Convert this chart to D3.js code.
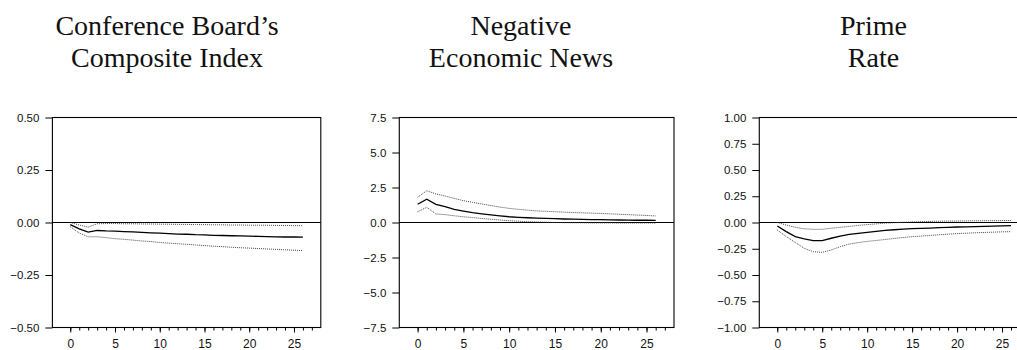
<!DOCTYPE html>
<html>
<head>
<meta charset="utf-8">
<script src="https://cdn.jsdelivr.net/npm/d3@7"></script>
<style>
  html, body { margin: 0; padding: 0; background: #fff; }
  svg { display: block; }
</style>
</head>
<body>
<svg id="chart" width="1017" height="350"></svg>
<script>
// ---------- DATA ----------
const horizons = d3.range(0, 27); // 0..26

const titles = [
  ["Conference Board\u2019s", "Composite Index"],
  ["Negative", "Economic News"],
  ["Prime", "Rate"]
];

const yDomains = [[-0.5, 0.5], [-7.5, 7.5], [-1.0, 1.0]];
const yTickValues = [
  [-0.5, -0.25, 0, 0.25, 0.5],
  [-7.5, -5.0, -2.5, 0, 2.5, 5.0, 7.5],
  [-1.0, -0.75, -0.5, -0.25, 0, 0.25, 0.5, 0.75, 1.0]
];
const yTickFormats = [".2f", ".1f", ".2f"];
const xMajorTicks = [0, 5, 10, 15, 20, 25];
const xMinorTicks = d3.range(0, 28);

// Panel 1: Conference Board's Composite Index
const cbMid = [-0.010, -0.030, -0.046, -0.038, -0.040, -0.041, -0.043, -0.045, -0.047, -0.049,
  -0.051, -0.053, -0.055, -0.056, -0.058, -0.059, -0.061, -0.062, -0.063, -0.064,
  -0.065, -0.066, -0.067, -0.068, -0.069, -0.069, -0.070];
const cbUpper = [0.000, -0.012, -0.022, -0.006, -0.005, -0.005, -0.006, -0.006, -0.007, -0.007,
  -0.008, -0.008, -0.009, -0.009, -0.010, -0.010, -0.011, -0.011, -0.012, -0.012,
  -0.013, -0.013, -0.013, -0.014, -0.014, -0.015, -0.015];
const cbLower = [-0.020, -0.050, -0.068, -0.068, -0.072, -0.077, -0.080, -0.084, -0.088, -0.091,
  -0.095, -0.098, -0.101, -0.104, -0.107, -0.110, -0.113, -0.115, -0.118, -0.120,
  -0.122, -0.124, -0.126, -0.128, -0.130, -0.132, -0.134];

// Panel 2: Negative Economic News
const newsMid = [1.30, 1.66, 1.30, 1.13, 0.94, 0.82, 0.70, 0.62, 0.54, 0.47,
  0.41, 0.37, 0.34, 0.31, 0.29, 0.27, 0.25, 0.24, 0.22, 0.21,
  0.20, 0.19, 0.18, 0.17, 0.16, 0.16, 0.15];
const newsUpper = [1.80, 2.27, 2.04, 1.89, 1.72, 1.56, 1.44, 1.32, 1.21, 1.10,
  1.01, 0.94, 0.88, 0.83, 0.80, 0.77, 0.74, 0.71, 0.69, 0.67,
  0.65, 0.62, 0.59, 0.56, 0.53, 0.50, 0.47];
const newsLower = [0.77, 1.08, 0.61, 0.56, 0.48, 0.41, 0.35, 0.29, 0.23, 0.18,
  0.13, 0.09, 0.06, 0.04, 0.02, 0.00, -0.01, -0.02, -0.02, -0.03,
  -0.03, -0.03, -0.04, -0.04, -0.04, -0.04, -0.04];

// Panel 3: Prime Rate
const primeMid = [-0.033, -0.087, -0.135, -0.157, -0.173, -0.172, -0.150, -0.129, -0.113, -0.103,
  -0.094, -0.084, -0.075, -0.069, -0.064, -0.059, -0.056, -0.053, -0.049, -0.046,
  -0.043, -0.041, -0.039, -0.037, -0.035, -0.032, -0.030];
const primeUpper = [0.000, -0.024, -0.046, -0.060, -0.065, -0.065, -0.055, -0.046, -0.037, -0.028,
  -0.020, -0.013, -0.006, -0.002, 0.002, 0.006, 0.008, 0.010, 0.012, 0.013,
  0.014, 0.015, 0.016, 0.017, 0.018, 0.018, 0.019];
const primeLower = [-0.071, -0.135, -0.190, -0.246, -0.278, -0.284, -0.262, -0.230, -0.205, -0.191,
  -0.180, -0.171, -0.162, -0.152, -0.143, -0.135, -0.129, -0.123, -0.117, -0.111,
  -0.106, -0.102, -0.098, -0.095, -0.092, -0.089, -0.087];

const panelSeries = [
  { mid: cbMid, upper: cbUpper, lower: cbLower },
  { mid: newsMid, upper: newsUpper, lower: newsLower },
  { mid: primeMid, upper: primeUpper, lower: primeLower }
];

// ---------- LAYOUT ----------
const panels = [
  { left: 52.4, width: 268.4, titleX: 167 },
  { left: 399.3, width: 274.7, titleX: 521 },
  { left: 759.3, width: 269.7, titleX: 873.5 }
];
const plotTop = 117.5, plotBottom = 327.5;
const xDomain = [-2, 28];

const svg = d3.select("#chart");

panels.forEach((p, i) => {
  const g = svg.append("g");
  const x = d3.scaleLinear().domain(xDomain).range([p.left, p.left + p.width]);
  const y = d3.scaleLinear().domain(yDomains[i]).range([plotBottom, plotTop]);

  // title
  [35, 67].forEach((ty, li) => {
    g.append("text")
      .attr("x", p.titleX).attr("y", ty)
      .attr("text-anchor", "middle")
      .style("font-family", "Liberation Serif")
      .style("font-size", "28px")
      .attr("fill", "#111")
      .text(titles[i][li]);
  });

  // frame
  g.append("rect")
    .attr("x", p.left).attr("y", plotTop)
    .attr("width", p.width).attr("height", plotBottom - plotTop)
    .attr("fill", "none").attr("stroke", "#000").attr("stroke-width", 1.1);

  // y axis
  const yAxis = g.append("g")
    .attr("transform", `translate(${p.left},0)`)
    .call(d3.axisLeft(y).tickValues(yTickValues[i]).tickFormat(d3.format(yTickFormats[i]))
      .tickSize(7).tickPadding(6));
  yAxis.select(".domain").remove();
  yAxis.selectAll("text")
    .style("font-family", "Liberation Sans")
    .style("font-size", "11.5px").attr("fill", "#111");

  // x axis minor ticks
  const xMinor = g.append("g")
    .attr("transform", `translate(0,${plotBottom})`)
    .call(d3.axisBottom(x).tickValues(xMinorTicks).tickFormat("").tickSize(3));
  xMinor.select(".domain").remove();

  // x axis major ticks
  const xAxis = g.append("g")
    .attr("transform", `translate(0,${plotBottom})`)
    .call(d3.axisBottom(x).tickValues(xMajorTicks).tickFormat(d3.format("d"))
      .tickSize(5).tickPadding(7));
  xAxis.select(".domain").remove();
  xAxis.selectAll("text")
    .style("font-family", "Liberation Sans")
    .style("font-size", "12px").attr("fill", "#111");

  // zero line
  g.append("line")
    .attr("x1", p.left).attr("x2", p.left + p.width)
    .attr("y1", y(0)).attr("y2", y(0))
    .attr("stroke", "#000").attr("stroke-width", 1);

  const line = d3.line().x((d, k) => x(horizons[k])).y(d => y(d));
  const s = panelSeries[i];

  [s.upper, s.lower].forEach(arr => {
    g.append("path")
      .datum(arr)
      .attr("d", line)
      .attr("fill", "none")
      .attr("stroke", "#333")
      .attr("stroke-width", 0.9)
      .attr("stroke-dasharray", "1,1");
  });

  g.append("path")
    .datum(s.mid)
    .attr("d", line)
    .attr("fill", "none")
    .attr("stroke", "#000")
    .attr("stroke-width", 1.3);
});
</script>
</body>
</html>
